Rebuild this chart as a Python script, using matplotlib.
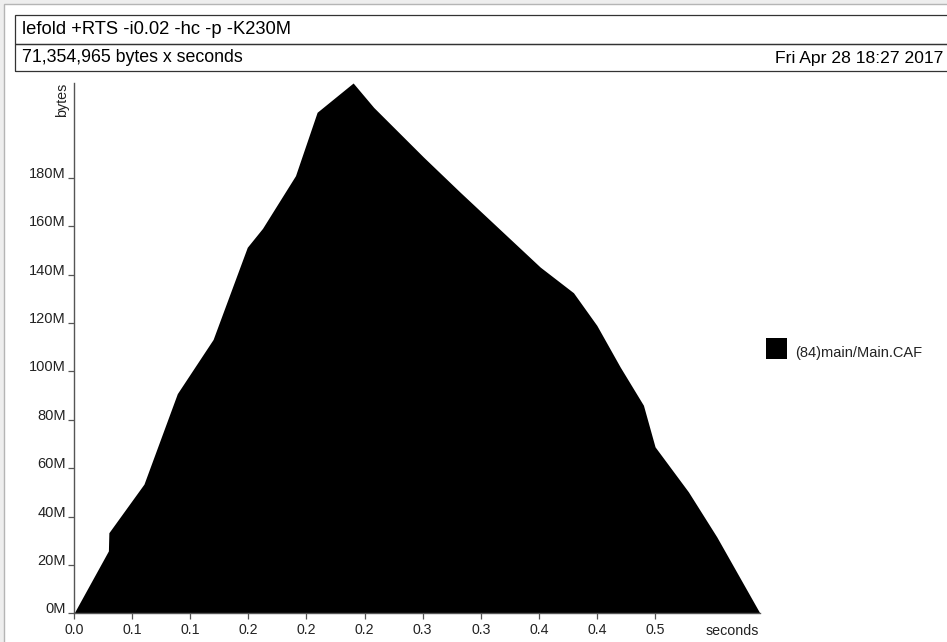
import matplotlib
matplotlib.use("Agg")
import matplotlib.pyplot as plt
from matplotlib.patches import Rectangle

plt.rcParams['font.family'] = ['Liberation Sans', 'DejaVu Sans']

# ---- data ----
time_s = [0.0, 0.0296, 0.0300, 0.0602, 0.0889, 0.1197, 0.1491, 0.1622, 0.1906,
          0.2092, 0.2402, 0.2579, 0.3009, 0.3324, 0.4012, 0.4298, 0.4499, 0.4700,
          0.4900, 0.5000, 0.5287, 0.5531, 0.5903]
mem_mb = [0.0, 25.8, 33.3, 53.4, 90.8, 113.2, 151.3, 159.1, 180.9,
          207.1, 219.2, 209.1, 188.5, 174.0, 143.1, 132.5, 119.0, 101.8,
          86.0, 68.8, 50.2, 31.6, 0.0]
series_name = "(84)main/Main.CAF"
y_ticks = [0, 20, 40, 60, 80, 100, 120, 140, 160, 180]
y_tick_labels = ["0M", "20M", "40M", "60M", "80M", "100M", "120M", "140M", "160M", "180M"]
x_ticks = [0.0, 0.05, 0.10, 0.15, 0.20, 0.25, 0.30, 0.35, 0.40, 0.45, 0.50]
x_tick_labels = ["0.0", "0.1", "0.1", "0.2", "0.2", "0.2", "0.3", "0.3", "0.4", "0.4", "0.5"]
job_title = "lefold +RTS -i0.02 -hc -p -K230M"
total_text = "71,354,965 bytes x seconds"
date_text = "Fri Apr 28 18:27 2017"

W, H = 947, 642
fig = plt.figure(figsize=(W / 100, H / 100), dpi=100)
fig.patch.set_facecolor('#eeeeee')

def fx(x):
    return x / W

def fy(y):
    return 1 - y / H

# outer page frame
fig.add_artist(Rectangle((fx(4), fy(660)), fx(960) - fx(4), fy(4) - fy(660),
                         transform=fig.transFigure, facecolor='white',
                         edgecolor='#b5b5b5', lw=1.0, zorder=0))
# header boxes
for top, bot in [(15, 44), (44, 71)]:
    fig.add_artist(Rectangle((fx(15), fy(bot)), fx(980) - fx(15), fy(top) - fy(bot),
                             transform=fig.transFigure, facecolor='none',
                             edgecolor='#333333', lw=0.9, zorder=1))

fig.text(fx(22), fy(30), job_title, ha='left', va='center', fontsize=13.2)
fig.text(fx(22), fy(58), total_text, ha='left', va='center', fontsize=12.8)
fig.text(fx(943), fy(58), date_text, ha='right', va='center', fontsize=12.6)

# axes
left, right, top, bottom = 74, 760, 83, 613.3
ax = fig.add_axes([fx(left), fy(bottom), fx(right) - fx(left), fy(top) - fy(bottom)])
ax.set_facecolor('none')
ax.fill_between(time_s, mem_mb, 0, color='black', lw=0)
ax.set_xlim(0, max(time_s))
ax.set_ylim(0, max(mem_mb))

for s in ['top', 'right']:
    ax.spines[s].set_visible(False)
for s in ['left', 'bottom']:
    ax.spines[s].set_color('#555555')
    ax.spines[s].set_linewidth(1.0)

ax.set_yticks(y_ticks)
ax.set_yticklabels(y_tick_labels)
ax.set_xticks(x_ticks)
ax.set_xticklabels(x_tick_labels)
ax.tick_params(axis='y', direction='out', length=4.3, width=0.9, color='#555555',
               pad=1.5, labelsize=10.5, labelcolor='#222222')
ax.tick_params(axis='x', direction='out', length=4.3, width=0.9, color='#555555',
               pad=3.0, labelsize=10.2, labelcolor='#222222')
for lbl in ax.get_yticklabels():
    lbl.set_va('baseline')

fig.text(fx(759), fy(631), "seconds", ha='right', va='center', fontsize=10.3, color='#222222')
fig.text(fx(62), fy(83), "bytes", ha='center', va='top', rotation=90, fontsize=10.3, color='#222222')

# legend
fig.add_artist(Rectangle((fx(766), fy(359)), fx(787) - fx(766), fy(338) - fy(359),
                         transform=fig.transFigure, facecolor='black', edgecolor='none'))
fig.text(fx(795), fy(357), series_name, ha='left', va='baseline', fontsize=10.5, color='#222222')

fig.savefig("out.png", dpi=100, facecolor=fig.get_facecolor())
